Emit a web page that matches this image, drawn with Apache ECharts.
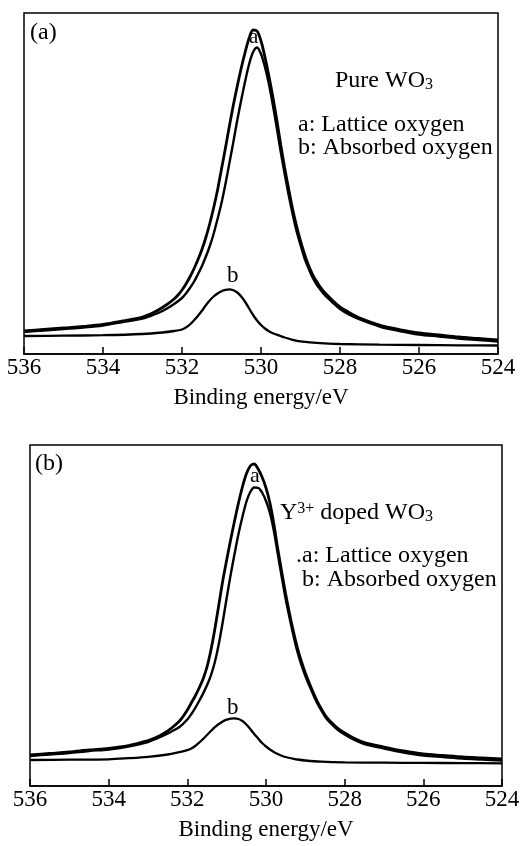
<!DOCTYPE html>
<html><head><meta charset="utf-8">
<script src="https://cdn.jsdelivr.net/npm/echarts@6/dist/echarts.min.js"></script>
<style>html,body{margin:0;padding:0;background:#fff}#c{width:525px;height:846px}</style>
</head><body><div id="c"></div>
<script>
// Tick values of the binding-energy axis
const xTicks = [536, 534, 532, 530, 528, 526, 524];
const axisTitle = 'Binding energy/eV';

// Panel (a): pure WO3 — [binding energy (eV), intensity (a.u.)]
const envelopeA = [[536,23],[535.5,24.5],[535,26],[534.5,27.5],[534,29.5],[533.5,33],[533,37],[532.8,40],[532.6,44],[532.4,49],[532.2,55],[532.1,59],[532,64],[531.9,70],[531.8,77],[531.7,85],[531.6,94],[531.5,104],[531.4,116],[531.3,130],[531.2,146],[531.1,164],[531,185],[530.9,206],[530.8,228],[530.7,249],[530.6,268],[530.5,286],[530.4,302],[530.3,316],[530.2,324],[530.1,323],[530,313],[529.9,297],[529.8,278],[529.7,257],[529.6,234],[529.5,209],[529.4,186],[529.3,165],[529.2,145],[529.1,128],[529,113],[528.9,100],[528.8,89],[528.7,80],[528.6,73],[528.5,67],[528.4,62],[528.2,54],[528,47],[527.75,41],[527.5,36],[527,29],[526.5,24.5],[526,21],[525.5,19],[525,17],[524.5,15.5],[524,14]];
const latticeA = [[536,22],[535.5,23.5],[535,25],[534.5,26.5],[534,28.5],[533.5,32],[533,35.5],[532.8,38],[532.6,41],[532.4,45],[532.2,50],[532,56],[531.9,60.5],[531.8,66],[531.7,72],[531.6,79.5],[531.5,87.5],[531.4,97],[531.3,107.5],[531.2,120],[531.1,135],[531,151],[530.9,170],[530.8,191],[530.7,212],[530.6,234],[530.5,254],[530.4,273],[530.3,290],[530.2,302],[530.1,306.5],[530,300],[529.9,287],[529.8,270],[529.7,249],[529.6,226],[529.5,202],[529.4,180],[529.3,159],[529.2,140],[529.1,123],[529,109],[528.9,96],[528.8,86],[528.7,77],[528.6,70],[528.5,64.5],[528.4,59.5],[528.2,52],[528,45],[527.75,39],[527.5,34.5],[527,27.5],[526.5,23],[526,19.5],[525.5,17.5],[525,15.5],[524.5,14],[524,12.5]];
const absorbedA = [[536,18],[535,18.3],[534,18.8],[533,20],[532.5,21.5],[532.2,23],[532,24.5],[531.9,26.5],[531.8,29.5],[531.7,33.5],[531.6,38],[531.5,43],[531.4,48.5],[531.3,53.5],[531.2,57.5],[531.1,60.5],[531,62.8],[530.9,64.2],[530.8,64.7],[530.7,63.8],[530.6,61.5],[530.5,57.5],[530.4,52],[530.3,45.5],[530.2,39],[530.1,33.5],[530,29],[529.9,25.5],[529.8,22.8],[529.7,20.8],[529.6,19.3],[529.4,16.5],[529.2,14.2],[529,12.6],[528.5,10.8],[528,10],[527,9.3],[526,9],[525,8.7],[524,8.5]];

// Panel (b): Y3+ doped WO3
const envelopeB = [[536,31],[535.5,32.5],[535,34],[534.5,36],[534,37.7],[533.5,40.5],[533,45.5],[532.8,48.5],[532.6,52.5],[532.4,58],[532.2,65],[532.1,70],[532,76],[531.9,83],[531.8,90],[531.7,98],[531.6,107],[531.5,119],[531.4,136],[531.3,157],[531.2,181],[531.1,205],[531,226],[530.9,246],[530.8,265],[530.7,283],[530.6,299],[530.5,312],[530.4,320],[530.3,322],[530.2,317],[530.1,309],[530,298],[529.9,283],[529.8,262],[529.7,237],[529.6,214],[529.5,192],[529.4,172],[529.3,154],[529.2,138],[529.1,124.5],[529,113],[528.9,103],[528.8,93.5],[528.7,85],[528.6,77.5],[528.5,71],[528.4,66],[528.2,58.5],[528,53],[527.75,47.5],[527.5,43.5],[527,39],[526.5,35],[526,32],[525.5,30.5],[525,29],[524.5,28],[524,27]];
const latticeB = [[536,30],[535.5,31.5],[535,33],[534.5,35],[534,36.5],[533.5,39.5],[533,44],[532.8,47],[532.6,50.5],[532.4,54.5],[532.2,59],[532,66.5],[531.9,71.8],[531.8,78],[531.7,85],[531.6,92.4],[531.5,100.7],[531.4,110.6],[531.3,124],[531.2,142],[531.1,164],[531,188],[530.9,211],[530.8,232],[530.7,252],[530.6,269],[530.5,284],[530.4,294],[530.3,298.5],[530.2,298.2],[530.1,293.5],[530,285],[529.9,273],[529.8,255],[529.7,232],[529.6,209],[529.5,187],[529.4,168],[529.3,150],[529.2,134],[529.1,121],[529,110],[528.9,100.5],[528.8,91.5],[528.7,83],[528.6,76],[528.5,69.5],[528.4,64.5],[528.2,57],[528,51.5],[527.75,46],[527.5,42],[527,37.5],[526.5,33.5],[526,30.5],[525.5,29],[525,27.5],[524.5,26.5],[524,25.5]];
const absorbedB = [[536,26],[535,26.3],[534,26.7],[533.5,27.8],[533,29.2],[532.5,31.5],[532.2,33.8],[532,35.8],[531.9,37.5],[531.8,40],[531.7,43.3],[531.6,47],[531.5,51],[531.4,55],[531.3,58.8],[531.2,62],[531.1,64.5],[531,66.3],[530.9,67.4],[530.8,67.7],[530.7,67],[530.6,65],[530.5,61.5],[530.4,57],[530.3,52],[530.2,47.5],[530.1,43],[530,39.5],[529.9,36.5],[529.8,34],[529.7,32],[529.6,30.3],[529.5,29],[529.4,28],[529.3,27.2],[529.2,26.5],[529,25.5],[528.6,24.3],[528,23.6],[527,23.3],[526,23.1],[525,22.9],[524,22.7]];

const FONT = 'Liberation Serif';
const chart = echarts.init(document.getElementById('c'), null, {renderer: 'canvas'});

function xAx(i) {
  return {
    gridIndex: i, type: 'value', min: 524, max: 536, interval: 2, inverse: true,
    axisLine: {show: true, lineStyle: {color: '#000', width: 1.5}},
    axisTick: {show: true, inside: true, length: 7, lineStyle: {color: '#000', width: 1.5}},
    axisLabel: {color: '#000', fontFamily: FONT, fontSize: 23, margin: 2,
      formatter: v => (xTicks.indexOf(v) >= 0 ? String(v) : '')},
    splitLine: {show: false},
    name: axisTitle, nameLocation: 'middle', nameGap: 32,
    nameTextStyle: {color: '#000', fontFamily: FONT, fontSize: 23}
  };
}
function yAx(i) {
  return {gridIndex: i, type: 'value', min: 0, max: 341, show: false};
}
function line(i, data, w) {
  return {type: 'line', xAxisIndex: i, yAxisIndex: i, data: data, symbol: 'none',
    smooth: 0.3, lineStyle: {color: '#000', width: w}, silent: true};
}
function txt(x, y, text, size, rich) {
  const st = {text: text, fill: '#000', fontFamily: FONT, fontSize: size, align: 'left', verticalAlign: 'middle'};
  if (rich) st.rich = rich;
  return {type: 'text', x: x, y: y, style: st, z: 100};
}
const richW = {
  m: {fontSize: 24, fontFamily: FONT, fill: '#000', lineHeight: 24},
  s: {fontSize: 16, fontFamily: FONT, fill: '#000', lineHeight: 8, verticalAlign: 'bottom'},
  p: {fontSize: 16, fontFamily: FONT, fill: '#000', lineHeight: 10, verticalAlign: 'top'}
};

chart.setOption({
  animation: false,
  backgroundColor: '#fff',
  grid: [
    {left: 24, top: 13, width: 474, height: 341, show: true, borderColor: '#000', borderWidth: 1.5, backgroundColor: 'transparent'},
    {left: 30, top: 445, width: 472, height: 341, show: true, borderColor: '#000', borderWidth: 1.5, backgroundColor: 'transparent'}
  ],
  xAxis: [xAx(0), xAx(1)],
  yAxis: [yAx(0), yAx(1)],
  series: [
    line(0, envelopeA, 2.8), line(0, latticeA, 2.4), line(0, absorbedA, 2.3),
    line(1, envelopeB, 2.8), line(1, latticeB, 2.4), line(1, absorbedB, 2.3)
  ],
  graphic: [
    txt(30, 33, '(a)', 24),
    txt(335, 81, '{m|Pure WO}{s|3}', 24, richW),
    txt(298, 125, 'a: Lattice oxygen', 24),
    txt(298, 148, 'b: Absorbed oxygen', 24),
    txt(249, 37, 'a', 21),
    txt(227, 276, 'b', 23),
    txt(35, 464, '(b)', 24),
    txt(280, 513, '{m|Y}{p|3+}{m| doped WO}{s|3}', 24, richW),
    txt(296, 556, '.a: Lattice oxygen', 24),
    txt(302, 580, 'b: Absorbed oxygen', 24),
    txt(250, 476, 'a', 22),
    txt(227, 708, 'b', 23)
  ]
});
</script></body></html>
